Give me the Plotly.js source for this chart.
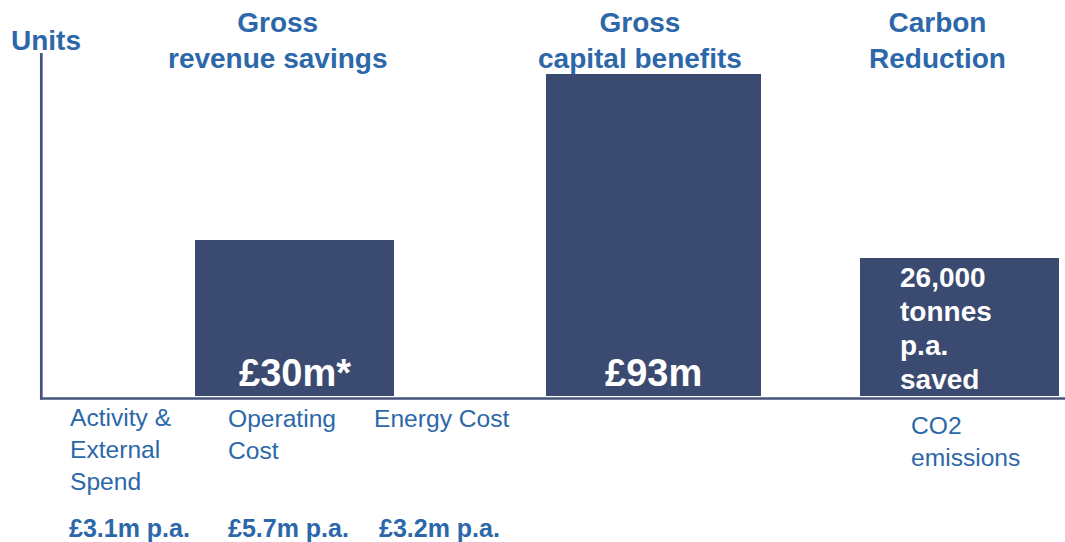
<!DOCTYPE html>
<html>
<head>
<meta charset="utf-8">
<script src="https://cdn.plot.ly/plotly-3.0.1.min.js"></script>
<style>
  html, body { margin: 0; padding: 0; background: #ffffff; }
  #chart { width: 1065px; height: 542px; }
</style>
</head>
<body>
<div id="chart"></div>
<script>
// ---- data ----
const axisTitle = "Units";
const groupHeaders = ["Gross<br>revenue savings", "Gross<br>capital benefits", "Carbon<br>Reduction"];
const financialValues = [30, 93];            // £m
const financialLabels = ["£30m*", "£93m"];
const revenueItems = ["Activity &<br>External<br>Spend", "Operating<br>Cost", "Energy Cost"];
const revenueAmounts = ["£3.1m p.a.", "£5.7m p.a.", "£3.2m p.a."];
const carbonValues = [26000];                // tonnes CO2 saved per year
const carbonLabelLines = ["26,000", "tonnes", "p.a.", "saved"];
const carbonItems = ["CO2<br>emissions"];

// ---- layout constants ----
const W = 1065, H = 542;
const M = { l: 41, r: 0, t: 53, b: 146 };
const plotH = H - M.t - M.b;
const py = Y => (H - M.b - Y) / plotH;       // page y -> paper y

const BAR = "#3b4a70";
const AXIS = "#47547a";
const BLUE = "#2c68a9";
const FONT = "Liberation Sans, Arial, sans-serif";

// x axis runs in page pixels so slots read naturally
const finCentres = [294.5, 653.5];
const finWidths = [199, 215];
const carbonCentres = [959.5];
const carbonWidths = [199];

const traces = [
  {
    type: "bar",
    x: finCentres,
    y: financialValues,
    width: finWidths,
    marker: { color: BAR, line: { width: 0 } },
    yaxis: "y",
    hoverinfo: "skip"
  },
  {
    type: "bar",
    x: carbonCentres,
    y: carbonValues,
    width: carbonWidths,
    marker: { color: BAR, line: { width: 0 } },
    yaxis: "y2",
    hoverinfo: "skip"
  }
];

const annotations = [];
function addText(text, x, yPage, size, color, opts) {
  annotations.push(Object.assign({
    text: text,
    x: x, xref: "x",
    y: py(yPage), yref: "paper",
    xanchor: "center", yanchor: "middle",
    showarrow: false,
    font: { family: FONT, size: size, color: color }
  }, opts || {}));
}

// axis title
addText("<b>" + axisTitle + "</b>", 46, 40, 28, BLUE);

// group headers
const headerX = [277, 640, 937];
groupHeaders.forEach((h, i) => addText("<b>" + h + "</b>", headerX[i], 40, 28, BLUE));

// value labels inside the financial bars
financialValues.forEach((v, i) =>
  addText("<b>" + financialLabels[i] + "</b>", finCentres[i], 373, 38, "#ffffff"));

// carbon label, one line at a time
carbonLabelLines.forEach((line, i) =>
  addText("<b>" + line + "</b>", 898, 277 + i * 34.3, 28, "#ffffff", { xanchor: "left", align: "left" }));

// revenue items under the axis
const itemX = [68, 226, 372];
const itemY = [449.5, 434, 418];
revenueItems.forEach((t, i) =>
  addText(t, itemX[i], itemY[i], 24.6, BLUE, { xanchor: "left", align: "left" }));
addText(carbonItems[0], 909, 441, 24.6, BLUE, { xanchor: "left", align: "left" });

// annual amounts
const amountX = [67, 226, 377];
revenueAmounts.forEach((t, i) =>
  addText("<b>" + t + "</b>", amountX[i], 528, 25, BLUE, { xanchor: "left", align: "left" }));

// axis lines
const shapes = [
  { type: "line", xref: "paper", yref: "paper", x0: 0.0003, x1: 0.0003, y0: py(399.8), y1: 1,
    line: { color: AXIS, width: 2.7 } },
  { type: "line", xref: "paper", yref: "paper", x0: -0.0005, x1: 1, y0: py(398.5), y1: py(398.5),
    line: { color: AXIS, width: 2.7 } }
];

const layout = {
  width: W, height: H,
  margin: M,
  paper_bgcolor: "#ffffff",
  plot_bgcolor: "#ffffff",
  showlegend: false,
  hovermode: false,
  xaxis: { range: [M.l, W - M.r], visible: false, fixedrange: true },
  yaxis: { type: "log", range: [1.0153, 2.0307], visible: false, fixedrange: true },
  yaxis2: { overlaying: "y", range: [0, 64600], visible: false, fixedrange: true },
  annotations: annotations,
  shapes: shapes,
  font: { family: FONT }
};

Plotly.newPlot("chart", traces, layout, { displayModeBar: false, staticPlot: true });
</script>
</body>
</html>
